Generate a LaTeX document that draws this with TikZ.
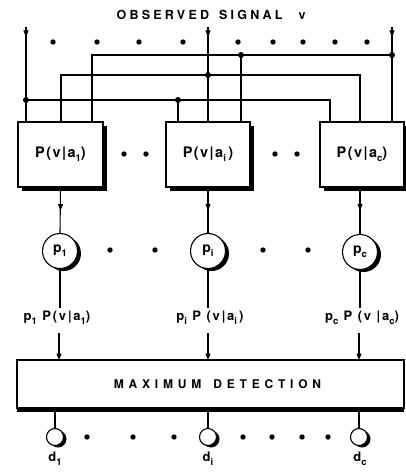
\documentclass[tikz,border=0pt]{standalone}
\usepackage{fontspec}
\setmainfont{TeX Gyre Heros}
\usetikzlibrary{arrows.meta,shadows}
\newcommand{\lowsub}[1]{\raisebox{-0.55ex}{\fontsize{9.5}{10}\selectfont #1}}
\begin{document}
\begin{tikzpicture}[x=1pt,y=-1pt,line width=1.1pt,
  tip/.style={-{Triangle[length=6.5pt,width=5pt]}},
  jdot/.style={circle,fill,inner sep=0pt,minimum size=6pt},
  blk/.style={draw,fill=white,minimum width=85pt,minimum height=65pt,
    font=\bfseries\fontsize{14.5}{16}\selectfont\addfontfeature{LetterSpace=10},
    drop shadow={shadow xshift=4pt,shadow yshift=-4pt,fill=black,opacity=1}},
  pcirc/.style={draw,circle,fill=white,minimum size=35pt,inner sep=0pt,
    font=\bfseries\fontsize{14}{16}\selectfont,
    drop shadow={shadow xshift=3.5pt,shadow yshift=-2.5pt,fill=black,opacity=1}},
  ocirc/.style={draw,circle,fill=white,minimum size=17pt,inner sep=0pt,
    drop shadow={shadow xshift=3pt,shadow yshift=-2pt,fill=black,opacity=1}},
  lbl/.style={inner sep=1pt,font=\bfseries\fontsize{13}{15}\selectfont\addfontfeature{LetterSpace=14}},
  dlbl/.style={inner sep=1pt,font=\bfseries\fontsize{13}{15}\selectfont\addfontfeature{LetterSpace=20}}]
\useasboundingbox (0,0) rectangle (405,473);

% title
\node[font=\bfseries\fontsize{12.5}{14}\selectfont\addfontfeature{LetterSpace=26}] (title) at (211,15)
  {OBSERVED\hspace{10pt}SIGNAL\hspace{16pt}v};

% input lines
\coordinate (t1) at (26,27);
\coordinate (ti) at (208,27);
\coordinate (tc) at (392,27);
\draw (t1) -- (26,122);
\draw (ti) -- (208,122);
\draw (tc) -- (392,122);
\draw[tip] (t1) -- ++(0,10);
\draw[tip] (ti) -- ++(0,10);
\draw[tip] (tc) -- ++(0,10);

% top dots
\foreach \x in {53,97,139,183,238,273,303,335,367} \fill (\x,42) circle (2.7pt);

% distribution network
\node[jdot] (ja) at (392,55) {};
\node[jdot] (ja2) at (241,55) {};
\draw (ja.center) -- (92,55) -- (92,122);
\draw (ja2.center) -- (241,122);
\node[jdot] (jb) at (208,75) {};
\draw (61,122) -- (61,75) -- (360,75) -- (360,122);
\node[jdot] (jc) at (26,100) {};
\node[jdot] (jc2) at (178,100) {};
\draw (jc.center) -- (330,100) -- (330,122);
\draw (jc2.center) -- (178,122);

% likelihood boxes
\node[blk] (box1) at (60.5,154.5) {P(v|a\lowsub{1})};
\node[blk,minimum width=84pt] (boxi) at (208,154.5) {P(v|a\lowsub{i}\,)};
\node[blk,minimum width=84pt] (boxc) at (362,154.5) {P(v|a\lowsub{c})};
\foreach \x in {124,146,275,297} \fill (\x,154) circle (2.7pt);

% prior circles
\node[pcirc] (p1) at (60,251) {p\lowsub{1}};
\node[pcirc] (pi) at (208,251) {p\lowsub{i}};
\node[pcirc] (pc) at (360,252) {p\lowsub{c}};
\foreach \x in {110,155,263,308} \fill (\x,250) circle (2.7pt);

\draw (box1.south) -- (p1.north);
\draw (boxi.south) -- (pi.north);
\draw ([xshift=-2pt]boxc.south) -- (pc.north);
\draw[tip] (box1.south) -- ++(0,23);
\draw[tip] (boxi.south) -- ++(0,23);
\draw[tip] ([xshift=-2pt]boxc.south) -- ++(0,23);

% products
\node[lbl] (l1) at (57,318) {p\lowsub{1} P(v|a\lowsub{1})};
\node[lbl] (li) at (210,318) {p\lowsub{i} P (v|a\lowsub{i}\,)};
\node[lbl] (lc) at (362,318) {p\lowsub{c} P (v |a\lowsub{c})};
\draw (p1.south) -- (60,308);
\draw (pi.south) -- (208,308);
\draw (pc.south) -- (360,308);

% maximum detection box
\node[draw,fill=white,minimum width=387pt,minimum height=48pt,
  font=\bfseries\fontsize{12}{14}\selectfont\addfontfeature{LetterSpace=40},
  drop shadow={shadow xshift=-0.5pt,shadow yshift=-3.5pt,fill=black,opacity=1}]
  (maxd) at (210.5,384) {\hspace{14pt}MAXIMUM\hspace{12pt}DETECTION};
\draw[tip] (59,333) -- (59,360);
\draw[tip] (208,333) -- (208,360);
\draw[tip] (359,333) -- (359,360);

% decision outputs
\node[ocirc] (d1) at (55,437) {};
\node[ocirc] (di) at (208,437) {};
\node[ocirc] (dc) at (359,437) {};
\draw (55,408) -- (d1.north);
\draw (208,408) -- (di.north);
\draw (359,408) -- (dc.north);
\foreach \x in {87,133,174,243,272,302,328} \fill (\x,437) circle (2.7pt);
\node[dlbl] (dl1) at (55,459) {d\lowsub{1}};
\node[dlbl] (dli) at (208,459) {d\lowsub{i}};
\node[dlbl] (dlc) at (360,459) {d\lowsub{c}};
\end{tikzpicture}
\end{document}
